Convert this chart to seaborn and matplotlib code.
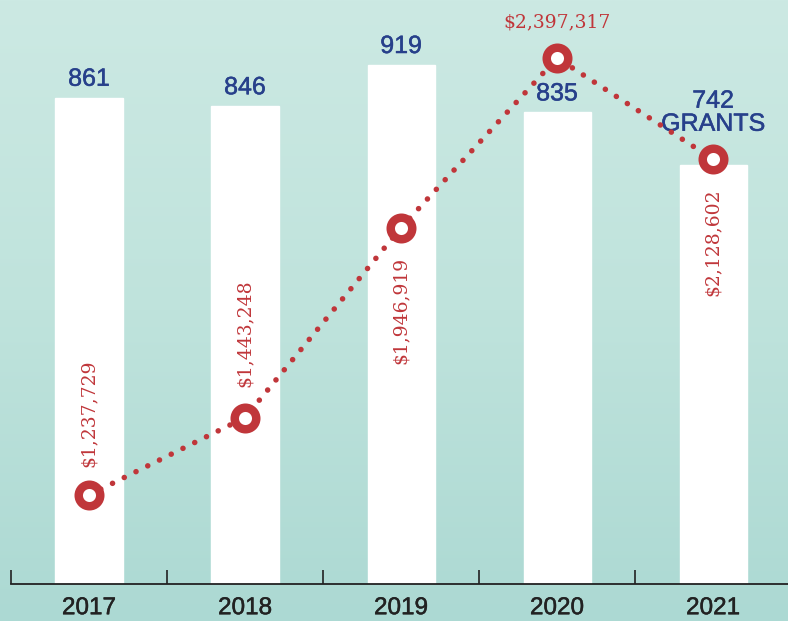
import numpy as np
import pandas as pd
import seaborn as sns
import matplotlib.pyplot as plt
import matplotlib.patheffects as pe

# data
years = ['2017', '2018', '2019', '2020', '2021']
grants = [861, 846, 919, 835, 742]
amounts = [1237729, 1443248, 1946919, 2397317, 2128602]
grant_labels = ['861', '846', '919', '835', '742\nGRANTS']
amount_labels = ['$1,237,729', '$1,443,248', '$1,946,919', '$2,397,317', '$2,128,602']

RED = '#c0363a'
BLUE = '#27408b'
DARK = '#222222'

df = pd.DataFrame({'year': years, 'grants': grants, 'amount': amounts})

sns.set_theme(style='white')
plt.rcParams['font.family'] = ['Liberation Sans', 'DejaVu Sans']

fig = plt.figure(figsize=(7.88, 6.21), dpi=100)

# teal background gradient
bg = fig.add_axes([0, 0, 1, 1], zorder=-10)
grad = np.linspace(0, 1, 256).reshape(-1, 1)
cmap = sns.blend_palette(['#cce9e3', '#bfe3dc', '#acd9d3'], as_cmap=True)
bg.imshow(grad, aspect='auto', cmap=cmap, extent=[0, 1, 0, 1])
bg.axis('off')

ax = fig.add_axes([11 / 788, 37 / 621, 777 / 788, 584 / 621])
ax.patch.set_alpha(0)

sns.barplot(data=df, x='year', y='grants', color='white', saturation=1,
            width=0.43, ax=ax, zorder=2)
ax.set_xlim(-0.5, 4.48)
ax.set_ylim(0, 1034)

# slightly heavier sans text, like a medium weight
blue_fx = [pe.withStroke(linewidth=0.35, foreground=BLUE)]
dark_fx = [pe.withStroke(linewidth=0.35, foreground=DARK)]

# count labels above bars
for i, (v, lab) in enumerate(zip(grants, grant_labels)):
    if '\n' in lab:
        ax.annotate(lab, (i, v), xytext=(0, 21), textcoords='offset points',
                    ha='center', va='bottom', fontsize=18, color=BLUE,
                    linespacing=0.95, zorder=5, path_effects=blue_fx)
    else:
        ax.annotate(lab, (i, v), xytext=(0, 8.6), textcoords='offset points',
                    ha='center', va='baseline', fontsize=18, color=BLUE,
                    zorder=5, path_effects=blue_fx)

# axis styling
for s in ['top', 'right', 'left']:
    ax.spines[s].set_visible(False)
ax.spines['bottom'].set_color(DARK)
ax.spines['bottom'].set_linewidth(1.3)
ax.set_yticks([])
ax.set_xlabel('')
ax.set_ylabel('')
ax.set_xticks(range(len(years)))
ax.set_xticklabels(years, fontsize=17.5, color=DARK)
for t in ax.get_xticklabels():
    t.set_path_effects(dark_fx)
ax.tick_params(axis='x', which='major', length=0, pad=9.5)
ax.set_xticks([-0.5, 0.5, 1.5, 2.5, 3.5], minor=True)
ax.tick_params(axis='x', which='minor', direction='in', length=10,
               width=1.2, color=DARK, bottom=True)

# dollar line on a second scale
ax2 = ax.twinx()
ax2.set_ylim(1001592, 2551074)
ax2.set_yticks([])
for s in ax2.spines.values():
    s.set_visible(False)
xs = np.arange(len(years))
ax2.plot(xs, amounts, color=RED, lw=4, linestyle=(0, (0.01, 2.35)),
         dash_capstyle='round', zorder=3)
ax2.plot(xs, amounts, 'o', ms=15.5, mfc='white', mec=RED, mew=6.1, zorder=4)

# dollar labels: (dy in points, rotation, vertical alignment)
placements = [(20, 90, 'bottom'), (22, 90, 'bottom'), (-21, 90, 'top'),
              (19, 0, 'bottom'), (-21, 90, 'top')]
for i, (v, lab) in enumerate(zip(amounts, amount_labels)):
    dy, rot, va = placements[i]
    ax2.annotate(lab, (i, v), xytext=(0, dy), textcoords='offset points',
                 ha='center', va=va, rotation=rot, fontsize=13.5,
                 color=RED, family='DejaVu Serif', zorder=6)

fig.savefig('out.png', dpi=100)
